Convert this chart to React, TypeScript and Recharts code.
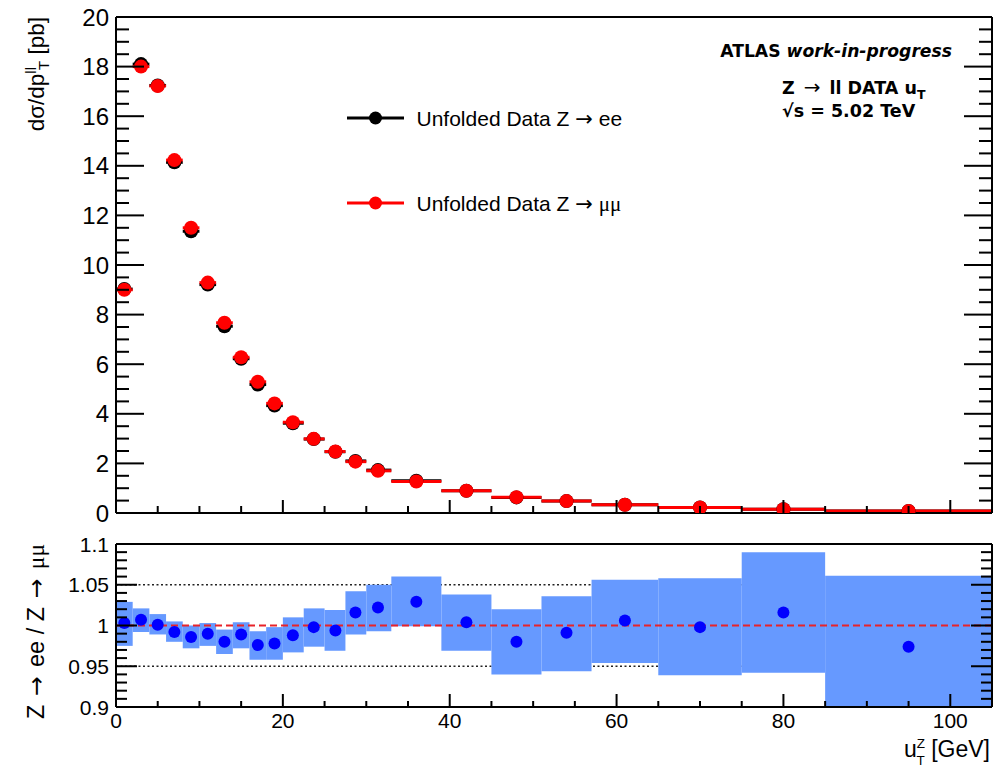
import React from 'react';
import {
  ComposedChart,
  Scatter,
  XAxis,
  YAxis,
  ErrorBar,
  ReferenceLine,
  ReferenceArea,
  Legend,
} from 'recharts';

// ---------------- data ----------------
const binEdges = [0, 2, 4, 6, 8, 10, 12, 14, 16, 18, 20, 22.5, 25, 27.5, 30, 33, 39, 45, 51, 57, 65, 75, 85, 105];
const binCenters = [1, 3, 5, 7, 9, 11, 13, 15, 17, 19, 21.2, 23.7, 26.3, 28.7, 31.4, 36, 42, 48, 54, 61, 70, 80, 95];
const xsecEE = [9.03, 18.1, 17.24, 14.14, 11.36, 9.21, 7.53, 6.22, 5.18, 4.33, 3.62, 2.98, 2.47, 2.1, 1.73, 1.3, 0.9, 0.63, 0.48, 0.33, 0.22, 0.15, 0.08];
const xsecMuMu = [9.0, 18.0, 17.22, 14.23, 11.5, 9.29, 7.67, 6.28, 5.29, 4.42, 3.66, 2.99, 2.48, 2.07, 1.7, 1.27, 0.9, 0.64, 0.48, 0.33, 0.22, 0.15, 0.08];
const ratioEEoverMuMu = [1.003, 1.007, 1.001, 0.992, 0.986, 0.99, 0.98, 0.989, 0.976, 0.978, 0.988, 0.998, 0.994, 1.016, 1.022, 1.029, 1.004, 0.98, 0.991, 1.006, 0.998, 1.016, 0.974];
const ratioBandLow = [0.975, 0.992, 0.989, 0.98, 0.972, 0.975, 0.965, 0.972, 0.958, 0.958, 0.967, 0.974, 0.969, 0.989, 0.993, 0.999, 0.969, 0.94, 0.944, 0.954, 0.939, 0.942, 0.88];
const ratioBandHigh = [1.029, 1.021, 1.014, 1.005, 1.0, 1.003, 0.995, 1.004, 0.993, 0.998, 1.01, 1.021, 1.019, 1.042, 1.05, 1.06, 1.038, 1.02, 1.036, 1.056, 1.058, 1.09, 1.061];

const xMajorTicks = [0, 20, 40, 60, 80, 100];
const xTickLabels = ['0', '20', '40', '60', '80', '100'];
const topYMajorTicks = [0, 2, 4, 6, 8, 10, 12, 14, 16, 18, 20];
const topYTickLabels = ['0', '2', '4', '6', '8', '10', '12', '14', '16', '18', '20'];
const ratioYMajorTicks = [0.9, 0.95, 1, 1.05, 1.1];
const ratioYTickLabels = ['0.9', '0.95', '1', '1.05', '1.1'];

const legendEntries = [
  { suffix: 'ee', color: '#000000', serif: false },
  { suffix: 'μμ', color: '#ff0000', serif: true },
];

// ---------------- helpers ----------------
const SANS = '"Liberation Sans", Arial, Helvetica, sans-serif';
const SERIF = '"Liberation Serif", "Times New Roman", serif';
const DEJAVU = '"DejaVu Sans", Verdana, sans-serif';

const steps = (lo: number, hi: number, step: number) => {
  const out: number[] = [];
  const n = Math.round((hi - lo) / step);
  for (let i = 0; i <= n; i++) out.push(Math.round((lo + i * step) * 1e6) / 1e6);
  return out;
};
const xTicks = steps(0, 105, 5);
const topYTicks = steps(0, 20, 0.5);
const ratioYTicks = steps(0.9, 1.1, 0.01);

type TickOpts = {
  side: 'left' | 'right' | 'top' | 'bottom';
  majors: number[];
  majorLen: number;
  minorLen: number;
  labels?: string[];
  fontSize?: number;
  gap?: number;
};

const makeTick = (o: TickOpts) => (props: any) => {
  const { x, y, payload } = props;
  const v = payload.value;
  const idx = o.majors.findIndex((m) => Math.abs(m - v) < 1e-6);
  const major = idx >= 0;
  const len = major ? o.majorLen : o.minorLen;
  let x2 = x;
  let y2 = y;
  if (o.side === 'left') x2 = x + len;
  else if (o.side === 'right') x2 = x - len;
  else if (o.side === 'top') y2 = y + len;
  else y2 = y - len;
  let label = null;
  if (major && o.labels) {
    if (o.side === 'left') {
      label = (
        <text x={x - (o.gap ?? 7)} y={y} dy="0.36em" textAnchor="end" fontFamily={SANS} fontSize={o.fontSize} fill="#000">
          {o.labels[idx]}
        </text>
      );
    } else if (o.side === 'bottom') {
      label = (
        <text x={x} y={y + (o.gap ?? 21)} textAnchor="middle" fontFamily={SANS} fontSize={o.fontSize} fill="#000">
          {o.labels[idx]}
        </text>
      );
    }
  }
  return (
    <g>
      <line x1={x} y1={y} x2={x2} y2={y2} stroke="#000" strokeWidth={2} />
      {label}
    </g>
  );
};

const dotShape = (color: string, r: number) => (props: any) => (
  <circle cx={props.cx} cy={props.cy} r={r} fill={color} />
);

const eeData = binCenters.map((x, i) => ({ x, y: xsecEE[i], xerr: [x - binEdges[i], binEdges[i + 1] - x] }));
const mumuData = binCenters.map((x, i) => ({ x, y: xsecMuMu[i], xerr: [x - binEdges[i], binEdges[i + 1] - x] }));
const ratioData = binCenters.map((x, i) => ({ x, y: ratioEEoverMuMu[i] }));

// ---------------- text pieces ----------------
const topYTitle = () => (
  <text transform="rotate(-90 44 17)" x={44} y={17} textAnchor="end" fontFamily={SANS} fontSize={22.5} fill="#000">
    dσ/dp
    <tspan fontSize={15} dy={-8}>ll</tspan>
    <tspan fontSize={15} dx={-3} dy={13}>T</tspan>
    <tspan dy={-5}>{' [pb]'}</tspan>
  </text>
);

const atlasText = () => (
  <g fill="#000">
    <text x={952} y={57} textAnchor="end" fontFamily={DEJAVU} fontSize={17.2} fontWeight="bold">
      ATLAS <tspan fontStyle="italic">work-in-progress</tspan>
    </text>
    <text x={782} y={94} fontFamily={DEJAVU} fontSize={17.5} fontWeight="bold">
      Z<tspan dx={9} fontWeight="normal" fontSize={20}>→</tspan>
      <tspan dx={9}>ll DATA u</tspan>
      <tspan fontSize={12.5} dy={5}>T</tspan>
    </text>
    <text x={782} y={117} fontFamily={DEJAVU} fontSize={17.5} fontWeight="bold">
      √s = 5.02 TeV
    </text>
  </g>
);

const ratioYTitle = () => (
  <text transform="rotate(-90 44 14)" x={44} y={14} textAnchor="end" fontFamily={SANS} fontSize={23.5} fill="#000">
    Z<tspan dx={9} fontFamily={DEJAVU}>→</tspan>
    <tspan dx={9}>ee / Z</tspan>
    <tspan dx={9} fontFamily={DEJAVU}>→</tspan>
    <tspan dx={9} fontFamily={SERIF}>μμ</tspan>
  </text>
);

const ratioXTitle = () => (
  <text x={990} y={227} textAnchor="end" fontFamily={SANS} fontSize={23} fill="#000">
    u
    <tspan fontSize={13.5} dy={-9.5}>Z</tspan>
    <tspan fontSize={13.5} dx={-8.5} dy={17}>T</tspan>
    <tspan dy={-7.5}>{' [GeV]'}</tspan>
  </text>
);

const renderLegend = () => (
  <svg width={340} height={130} style={{ overflow: 'visible' }}>
    {legendEntries.map((e, i) => {
      const cy = i === 0 ? 23 : 108;
      return (
        <g key={i}>
          <line x1={7} y1={cy} x2={64} y2={cy} stroke={e.color} strokeWidth={3} />
          <circle cx={35.5} cy={cy} r={6.5} fill={e.color} />
          <text x={76.5} y={cy + 8} fontFamily={SANS} fontSize={21} fill="#000">
            Unfolded Data Z <tspan fontFamily={DEJAVU}>→</tspan>{' '}
            {e.serif ? <tspan fontFamily={SERIF}>{e.suffix}</tspan> : e.suffix}
          </text>
        </g>
      );
    })}
  </svg>
);

const axisLineStyle = { stroke: '#000', strokeWidth: 2 };

export default function App() {
  return (
    <div style={{ position: 'absolute', left: 0, top: 0, width: 996, height: 768, background: '#fff' }}>
      <div style={{ position: 'absolute', left: 0, top: 0 }}>
        <ComposedChart width={996} height={530} margin={{ top: 16, right: 3, bottom: 16, left: 115 }}>
          <Scatter data={eeData} dataKey="y" shape={dotShape('#000000', 7)} isAnimationActive={false}>
            <ErrorBar dataKey="xerr" direction="x" width={0} stroke="#000000" strokeWidth={3} isAnimationActive={false} />
          </Scatter>
          <Scatter data={mumuData} dataKey="y" shape={dotShape('#ff0000', 7)} isAnimationActive={false}>
            <ErrorBar dataKey="xerr" direction="x" width={0} stroke="#ff0000" strokeWidth={3} isAnimationActive={false} />
          </Scatter>
          <XAxis
            dataKey="x"
            type="number"
            domain={[0, 105]}
            allowDataOverflow
            ticks={xTicks}
            interval={0}
            height={1}
            tickSize={0}
            tickMargin={0}
            tickLine={false}
            axisLine={axisLineStyle}
            tick={makeTick({ side: 'bottom', majors: xMajorTicks, majorLen: 13, minorLen: 7 })}
          />
          <XAxis
            xAxisId="top"
            orientation="top"
            type="number"
            domain={[0, 105]}
            allowDataOverflow
            ticks={xTicks}
            interval={0}
            height={1}
            tickSize={0}
            tickMargin={0}
            tickLine={false}
            axisLine={axisLineStyle}
            tick={makeTick({ side: 'top', majors: xMajorTicks, majorLen: 13, minorLen: 7 })}
            label={atlasText}
          />
          <YAxis
            type="number"
            domain={[0, 20]}
            allowDataOverflow
            ticks={topYTicks}
            interval={0}
            width={1}
            tickSize={0}
            tickMargin={0}
            tickLine={false}
            axisLine={axisLineStyle}
            tick={makeTick({ side: 'left', majors: topYMajorTicks, majorLen: 28, minorLen: 13, labels: topYTickLabels, fontSize: 24, gap: 7 })}
            label={topYTitle}
          />
          <YAxis
            yAxisId="right"
            orientation="right"
            type="number"
            domain={[0, 20]}
            allowDataOverflow
            ticks={topYTicks}
            interval={0}
            width={1}
            tickSize={0}
            tickMargin={0}
            tickLine={false}
            axisLine={axisLineStyle}
            tick={makeTick({ side: 'right', majors: topYMajorTicks, majorLen: 28, minorLen: 13 })}
          />
          <Legend
            layout="horizontal"
            verticalAlign="middle"
            align="center"
            wrapperStyle={{ position: 'absolute', left: 340, top: 95, width: 340, height: 130 }}
            content={renderLegend}
          />
        </ComposedChart>
      </div>

      <div style={{ position: 'absolute', left: 0, top: 530 }}>
        <ComposedChart width={996} height={238} margin={{ top: 13, right: 3, bottom: 60, left: 115 }}>
          <ReferenceLine y={1.05} stroke="#222" strokeWidth={1.6} strokeDasharray="2 2.5" zIndex={50} />
          <ReferenceLine y={0.95} stroke="#222" strokeWidth={1.6} strokeDasharray="2 2.5" zIndex={50} />
          {ratioBandLow.map((lo, i) => (
            <ReferenceArea
              key={i}
              x1={binEdges[i]}
              x2={binEdges[i + 1]}
              y1={lo}
              y2={ratioBandHigh[i]}
              fill="#6699ff"
              fillOpacity={1}
              stroke="none"
              ifOverflow="hidden"
              zIndex={100}
            />
          ))}
          <ReferenceLine y={1} stroke="#e8232a" strokeWidth={2} strokeDasharray="7 4" zIndex={450} />
          <Scatter data={ratioData} dataKey="y" shape={dotShape('#0000ff', 6)} isAnimationActive={false} zIndex={600} />
          <XAxis
            dataKey="x"
            type="number"
            domain={[0, 105]}
            allowDataOverflow
            ticks={xTicks}
            interval={0}
            height={1}
            tickSize={0}
            tickMargin={0}
            tickLine={false}
            axisLine={axisLineStyle}
            tick={makeTick({ side: 'bottom', majors: xMajorTicks, majorLen: 13, minorLen: 6, labels: xTickLabels, fontSize: 21, gap: 21 })}
            label={ratioXTitle}
          />
          <XAxis
            xAxisId="top"
            orientation="top"
            type="number"
            domain={[0, 105]}
            allowDataOverflow
            ticks={xTicks}
            interval={0}
            height={1}
            tickSize={0}
            tickMargin={0}
            tickLine={false}
            axisLine={axisLineStyle}
            tick={makeTick({ side: 'top', majors: xMajorTicks, majorLen: 13, minorLen: 6 })}
          />
          <YAxis
            type="number"
            domain={[0.9, 1.1]}
            allowDataOverflow
            ticks={ratioYTicks}
            interval={0}
            width={1}
            tickSize={0}
            tickMargin={0}
            tickLine={false}
            axisLine={axisLineStyle}
            tick={makeTick({ side: 'left', majors: ratioYMajorTicks, majorLen: 21, minorLen: 11, labels: ratioYTickLabels, fontSize: 21, gap: 7 })}
            label={ratioYTitle}
          />
          <YAxis
            yAxisId="right"
            orientation="right"
            type="number"
            domain={[0.9, 1.1]}
            allowDataOverflow
            ticks={ratioYTicks}
            interval={0}
            width={1}
            tickSize={0}
            tickMargin={0}
            tickLine={false}
            axisLine={axisLineStyle}
            tick={makeTick({ side: 'right', majors: ratioYMajorTicks, majorLen: 21, minorLen: 11 })}
          />
        </ComposedChart>
      </div>
    </div>
  );
}
